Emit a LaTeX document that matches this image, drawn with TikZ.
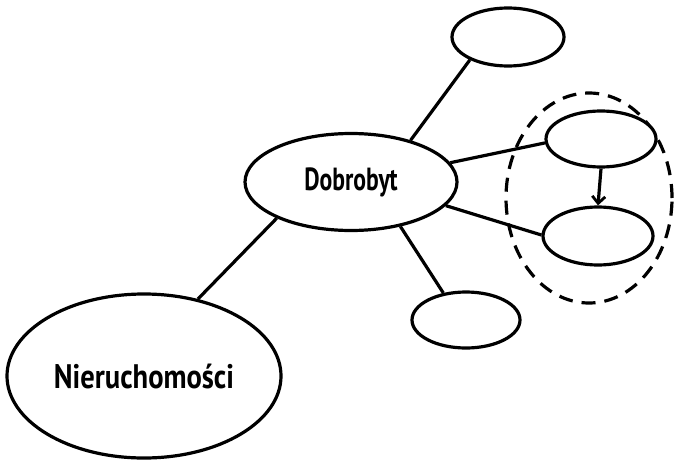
\documentclass[tikz,border=0pt]{standalone}
\usepackage{fontspec}
\setmainfont{PT Sans}
\usetikzlibrary{shapes.geometric,arrows.meta}
\tikzset{
  bubble/.style={ellipse, draw, line width=3.2pt, inner sep=0pt, fill=white},
  link/.style={line width=3.2pt},
  group/.style={ellipse, draw, line width=3.2pt, dash pattern=on 14pt off 9pt, inner sep=0pt},
  label/.style={font=\bfseries},
}
\begin{document}
\begin{tikzpicture}[x=1pt,y=-1pt]
\useasboundingbox (0,0) rectangle (679,460);
\node[group, minimum width=166pt, minimum height=210pt] (grp) at (589,198) {};
\node[bubble, label, minimum width=212pt, minimum height=97pt] (dob) at (351,182)
  {\scalebox{0.74}[1]{\fontsize{32}{32}\selectfont Dobrobyt}};
\node[bubble, label, minimum width=274pt, minimum height=164pt] (nie) at (144,376)
  {\scalebox{0.84}[1]{\fontsize{34}{34}\selectfont Nieruchomości}};
\node[bubble, minimum width=112pt, minimum height=58pt] (top) at (508,37) {};
\node[bubble, minimum width=110pt, minimum height=56pt] (ru) at (601,139) {};
\node[bubble, minimum width=110pt, minimum height=58pt] (rl) at (598,236) {};
\node[bubble, minimum width=108pt, minimum height=56pt] (bot) at (466,320) {};
\draw[link] (dob.206) -- (nie.55);
\draw[link] (dob.35) -- (top.211);
\draw[link] (dob.11) -- (ru.184);
\draw[link] (dob.346) -- (rl.179);
\draw[link] (dob.318) -- (bot.130);
\draw[link, -{Straight Barb[length=7pt,width=13pt,line width=2.8pt]}] (ru.south) -- (rl.north);
\end{tikzpicture}
\end{document}
